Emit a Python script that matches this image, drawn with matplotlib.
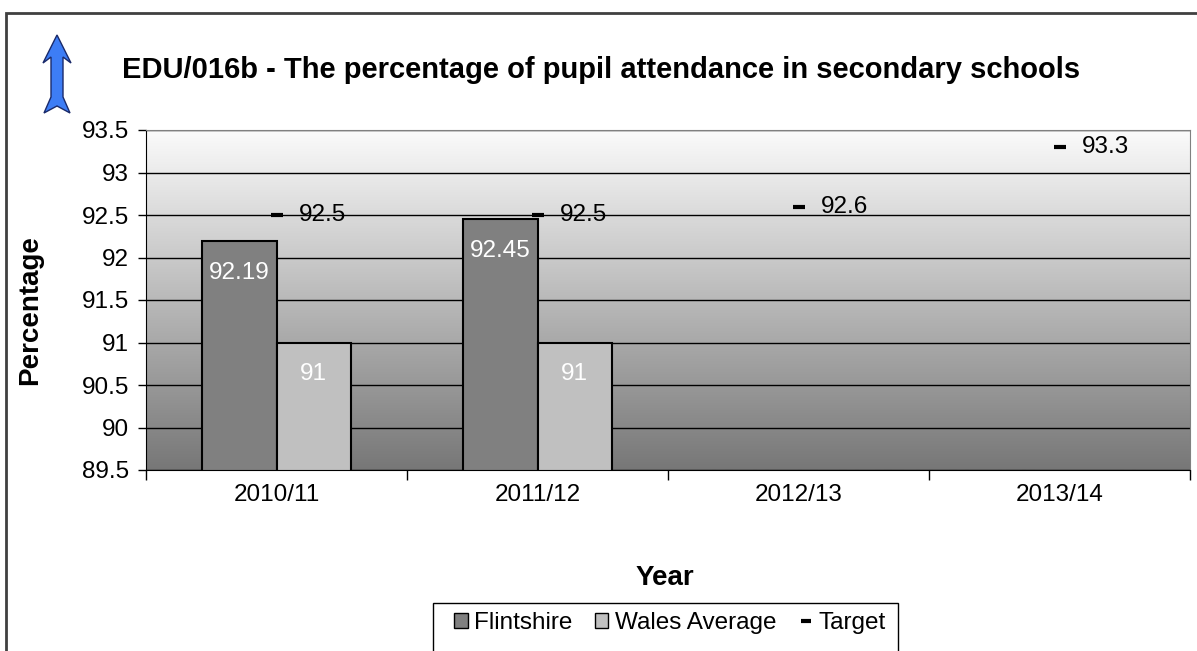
import numpy as np
import matplotlib
matplotlib.use('Agg')
import matplotlib.pyplot as plt
from matplotlib.patches import Patch, Rectangle, Polygon
from matplotlib.lines import Line2D

plt.rcParams['font.family'] = ['Liberation Sans', 'DejaVu Sans']

# data
years = ['2010/11', '2011/12', '2012/13', '2013/14']
flintshire = [92.19, 92.45]
wales_avg = [91, 91]
target = [92.5, 92.5, 92.6, 93.3]

FS = 17.5   # regular text
FB = 20     # bold axis titles

W, H = 1197, 651
fig = plt.figure(figsize=(W / 100, H / 100), dpi=100)
fig.patch.set_facecolor('white')

# outer chart frame (runs off the right and bottom edges)
fig.patches.append(Rectangle((6 / W, -0.05), 1.1, (H - 13) / H + 0.05,
                             transform=fig.transFigure, fill=False,
                             edgecolor='#404040', linewidth=2, zorder=0))

ax = fig.add_axes([146 / W, 181 / H, 1044 / W, 340 / H])
ax.set_xlim(-0.5, 3.5)
ax.set_ylim(89.5, 93.5)

# grey gradient plot area
grad = np.linspace(0, 1, 256).reshape(-1, 1)
ax.imshow(grad, cmap=matplotlib.colors.LinearSegmentedColormap.from_list(
    'g', ['#777777', '#fbfbfb']), origin='lower', aspect='auto',
    extent=(0, 1, 0, 1), transform=ax.transAxes, zorder=0)

yt = np.arange(89.5, 93.6, 0.5)
ax.set_yticks(yt)
ax.set_yticklabels([f'{v:g}' for v in yt])
ax.grid(axis='y', color='black', linewidth=1, zorder=1)
ax.set_axisbelow(True)

# category ticks between groups, labels at centres
ax.set_xticks(np.arange(-0.5, 3.6, 1))
ax.set_xticklabels([])
ax.set_xticks(np.arange(len(years)), minor=True)
ax.set_xticklabels(years, minor=True)
ax.tick_params(axis='x', which='major', length=7, width=1, direction='out')
ax.tick_params(axis='x', which='minor', length=0, pad=10, labelsize=FS)
ax.tick_params(axis='y', length=6, width=1, direction='out', pad=6, labelsize=FS)

for s in ['top', 'right']:
    ax.spines[s].set_color('#808080')
for s in ['left', 'bottom']:
    ax.spines[s].set_color('black')

w = 0.284
xb = np.arange(len(flintshire))
b1 = ax.bar(xb - w / 2, flintshire, w, color='#808080', edgecolor='black',
            linewidth=1.5, zorder=2)
b2 = ax.bar(xb + w / 2, wales_avg, w, color='#c0c0c0', edgecolor='black',
            linewidth=1.5, zorder=2)
for bars, vals in [(b1, flintshire), (b2, wales_avg)]:
    for r, v in zip(bars, vals):
        ax.annotate(f'{v:g}', (r.get_x() + r.get_width() / 2, v),
                    xytext=(0, -23), textcoords='offset points',
                    ha='center', va='center', color='white', fontsize=FS,
                    zorder=4)

xt = np.arange(len(target))
ax.plot(xt, target, linestyle='none', marker='_', markersize=8,
        markeredgewidth=3, color='black', zorder=3)
for x, v in zip(xt, target):
    ax.annotate(f'{v:g}', (x, v), xytext=(16, 0), textcoords='offset points',
                ha='left', va='center', color='black', fontsize=FS, zorder=4)

fig.text(601 / W, 1 - 70 / H,
         'EDU/016b - The percentage of pupil attendance in secondary schools',
         ha='center', va='center', fontsize=21, fontweight='bold')
fig.text(30 / W, 1 - 310 / H, 'Percentage', rotation=90, ha='center',
         va='center', fontsize=FB, fontweight='bold')
fig.text(665 / W, 1 - 578 / H, 'Year', ha='center', va='center',
         fontsize=FB, fontweight='bold')

# legend box (cut off at the bottom)
fig.patches.append(Rectangle((433 / W, -0.05), 465 / W, (H - 603) / H + 0.05,
                             transform=fig.transFigure, fill=True,
                             facecolor='white', edgecolor='black',
                             linewidth=1, zorder=1))
handles = [Patch(facecolor='#808080', edgecolor='black', label='Flintshire'),
           Patch(facecolor='#c0c0c0', edgecolor='black', label='Wales Average'),
           Line2D([], [], linestyle='none', marker='_', markersize=7,
                  markeredgewidth=3, color='black', label='Target')]
fig.legend(handles=handles, loc='center', bbox_to_anchor=(670 / W, 1 - 623 / H),
           ncol=3, frameon=False, fontsize=FS, handlelength=0.55,
           handleheight=0.55, handletextpad=0.25, columnspacing=0.95)

# blue up arrow in the corner
arrow_px = [(57, 35), (71, 63), (63, 57), (63, 97), (70, 113), (57, 106),
            (44, 113), (51, 97), (51, 57), (43, 63)]
fig.patches.append(Polygon([(x / W, 1 - y / H) for x, y in arrow_px],
                           closed=True, transform=fig.transFigure,
                           facecolor='#3d7df5', edgecolor='#1a2a6a',
                           linewidth=1, zorder=2))

fig.savefig('out.png', dpi=100, facecolor='white')
